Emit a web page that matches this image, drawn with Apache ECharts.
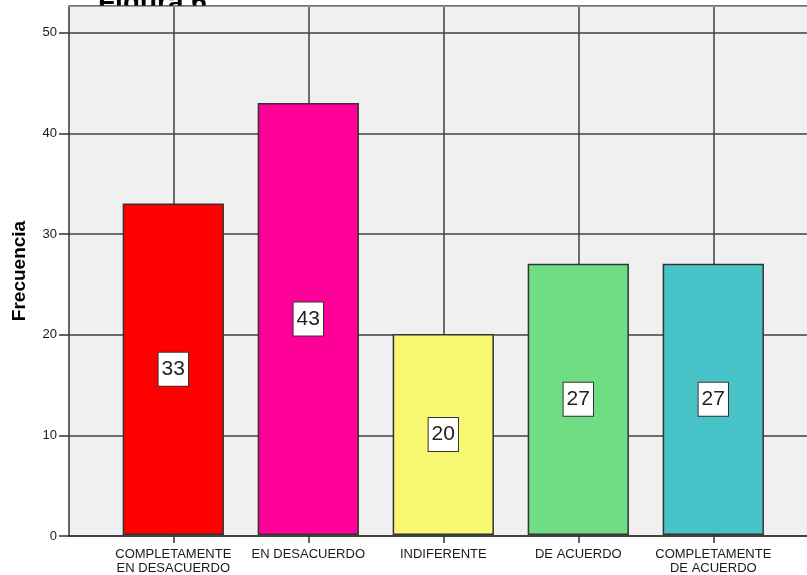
<!DOCTYPE html>
<html>
<head>
<meta charset="utf-8">
<script src="https://cdn.jsdelivr.net/npm/echarts@6/dist/echarts.min.js"></script>
<style>
  html, body { margin: 0; padding: 0; background: #ffffff; }
  #chart { width: 807px; height: 575px; }
</style>
</head>
<body>
<div id="chart"></div>
<script>
// Frequency of each response option
const categories = [
  'COMPLETAMENTE\nEN DESACUERDO',
  'EN DESACUERDO',
  'INDIFERENTE',
  'DE ACUERDO',
  'COMPLETAMENTE\nDE ACUERDO'
];
const frequencies = [33, 43, 20, 27, 27];
const barColors = ['#ff0000', '#ff0098', '#f8f872', '#70dc84', '#48c4c8'];
const yTicks = [0, 10, 20, 30, 40, 50];

const FONT = 'Arial, "Liberation Sans", sans-serif';
const Y_MAX = 52.65;
const RULE = { color: '#404040', width: 1.5 };

const chart = echarts.init(document.getElementById('chart'), null, { renderer: 'canvas' });

chart.setOption({
  animation: false,
  backgroundColor: '#ffffff',
  title: {
    text: 'Figura 6',
    left: 93,
    top: -16,
    z: -10,
    textStyle: { fontFamily: FONT, fontSize: 28, fontWeight: 'bold', color: '#000' }
  },
  grid: [
    // frame: grey plot area, value axis, horizontal rules
    { left: 69, right: -10, top: 6, bottom: 39, show: true,
      backgroundColor: '#f0f0f0', borderWidth: 0 },
    // category bands holding the bars
    { left: 105.8, right: 26.2, top: 6, bottom: 39, show: false },
    // vertical rules through the category centres
    { left: 173.3, right: 93.7, top: 6, bottom: 39, show: false }
  ],
  xAxis: [
    {
      gridIndex: 0, type: 'value', min: 0, max: 1, position: 'bottom',
      axisLine: { show: true, lineStyle: { color: '#333', width: 1.5 } },
      axisTick: { show: false }, axisLabel: { show: false }, splitLine: { show: false }
    },
    {
      gridIndex: 0, type: 'value', min: 0, max: 1, position: 'top',
      axisLine: { show: true, lineStyle: { color: '#9a9a9a', width: 1 } },
      axisTick: { show: false }, axisLabel: { show: false }, splitLine: { show: false }
    },
    {
      gridIndex: 1, type: 'category', data: categories, boundaryGap: true,
      axisLine: { show: false },
      axisTick: { show: true, alignWithLabel: true, length: 8, lineStyle: { color: '#333', width: 1.5 } },
      axisLabel: {
        interval: 0, margin: 12, fontFamily: FONT, fontSize: 13, lineHeight: 14, color: '#1a1a1a'
      },
      splitLine: { show: false }
    },
    {
      gridIndex: 2, type: 'category', data: categories, boundaryGap: false,
      axisLine: { show: false }, axisTick: { show: false }, axisLabel: { show: false },
      splitLine: { show: true, interval: 0, lineStyle: RULE }
    }
  ],
  yAxis: [
    {
      gridIndex: 0, type: 'value', min: 0, max: Y_MAX, interval: 10,
      name: 'Frecuencia', nameLocation: 'middle', nameRotate: 90, nameGap: 40,
      nameTextStyle: { fontFamily: FONT, fontSize: 19, fontWeight: 'bold', color: '#000' },
      axisLine: { show: true, lineStyle: { color: '#333', width: 1.5 } },
      axisTick: { show: true, length: 10, lineStyle: { color: '#333', width: 1.5 } },
      axisLabel: {
        margin: 12, fontFamily: FONT, fontSize: 13, color: '#1a1a1a', showMaxLabel: false,
        formatter: v => (yTicks.indexOf(v) >= 0 ? String(v) : '')
      },
      splitLine: { show: true, lineStyle: RULE }
    },
    { gridIndex: 1, type: 'value', min: 0, max: Y_MAX, interval: 10, show: false },
    { gridIndex: 2, type: 'value', min: 0, max: Y_MAX, interval: 10, show: false }
  ],
  series: [{
    type: 'bar',
    xAxisIndex: 2,
    yAxisIndex: 1,
    barWidth: '75%',
    data: frequencies.map((v, i) => ({ value: v, itemStyle: { color: barColors[i] } })),
    itemStyle: { borderColor: '#333', borderWidth: 1.5 },
    label: {
      show: true,
      position: 'inside',
      fontFamily: FONT,
      fontSize: 21,
      lineHeight: 22,
      color: '#222',
      backgroundColor: '#ffffff',
      borderColor: '#333',
      borderWidth: 1,
      padding: [6, 3, 5, 3]
    }
  }]
});
</script>
</body>
</html>
